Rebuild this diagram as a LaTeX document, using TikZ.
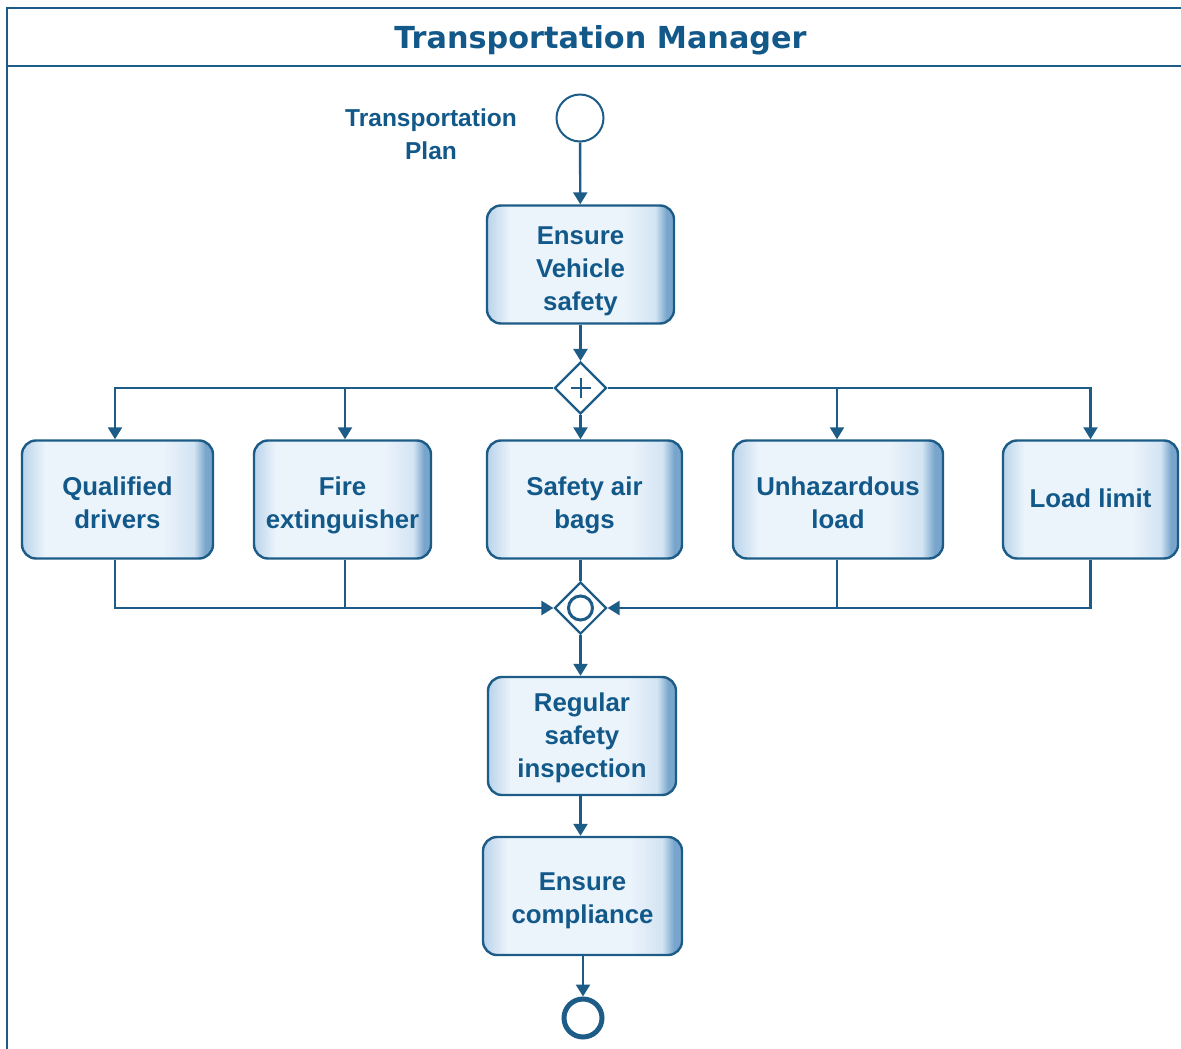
\documentclass[tikz,border=0pt]{standalone}
\usepackage{fontspec}
\usetikzlibrary{arrows.meta,shapes.geometric}
\newfontfamily\lsans{Liberation Sans}
\newfontfamily\dvsans{DejaVu Sans}

\definecolor{bline}{HTML}{1D5C87}
\definecolor{txt}{HTML}{12598A}
\definecolor{bxedge}{HTML}{B9D3EA}
\definecolor{bxlight}{HTML}{EBF3FB}
\definecolor{bxright}{HTML}{78A5CB}
\definecolor{bxmid}{HTML}{D3E4F3}

% taller first line, to sit the text a little lower in its box
\newcommand{\toproom}[1]{\rule{0pt}{#1}}

% horizontal fill for the task boxes: light centre, darker rims
\pgfdeclarehorizontalshading{boxfill}{100bp}{%
  color(0bp)=(bxedge); color(25bp)=(bxedge); color(31bp)=(bxlight);
  color(62bp)=(bxlight); color(70bp)=(bxmid); color(73bp)=(bxright);
  color(75bp)=(bxright); color(100bp)=(bxright)}

\tikzset{
  task/.style={draw=bline, line width=2.4pt, rounded corners=14pt,
    shading=boxfill, minimum height=118pt, align=center, inner sep=0pt,
    text depth=0pt, text=txt,
    font=\lsans\bfseries\fontsize{25.8}{33}\selectfont},
  flow/.style={draw=bline, line width=2.4pt},
  arr/.style={flow, -{Triangle[width=14pt,length=12pt]}},
  gate/.style={draw=bline, line width=2.2pt, fill=white, diamond,
    minimum width=52pt, minimum height=52pt, inner sep=0pt},
}

\begin{document}
\begin{tikzpicture}[x=1pt,y=-1pt]
\useasboundingbox (0,0) rectangle (1181,1049);

% pool frame with title bar
\draw[bline, line width=2.4pt] (1190,8) -- (7,8) -- (7,1060);
\draw[bline, line width=2.4pt] (7,66) -- (1190,66);
\node[text=txt, font=\dvsans\bfseries\fontsize{30.3}{34}\selectfont] (title) at (600.5,40) {Transportation Manager};

% start event and its label
\node[circle, draw=bline, line width=2pt, minimum size=47pt, inner sep=0pt] (start) at (580,118) {};
\node[text=txt, align=center, font=\lsans\bfseries\fontsize{24.5}{33}\selectfont] (plan) at (431,134.5) {Transportation\\Plan};

% tasks
\node[task, minimum width=187pt] (vehicle) at (580.5,264.5) {\toproom{25pt}Ensure\\Vehicle\\safety};
\node[task, minimum width=191pt] (drivers) at (117.5,499.5) {\toproom{25pt}Qualified\\drivers};
\node[task, minimum width=177pt] (fire) at (342.5,499.5) {\toproom{25pt}Fire\\extinguisher};
\node[task, minimum width=195pt] (bags) at (584.5,499.5) {\toproom{25pt}Safety air\\bags};
\node[task, minimum width=210pt] (unhaz) at (838,499.5) {\toproom{25pt}Unhazardous\\load};
\node[task, minimum width=175pt, text depth=2pt] (limit) at (1090.5,499.5) {Load limit};
\node[task, minimum width=188pt, text depth=1pt] (inspect) at (582,736) {Regular\\safety\\inspection};
\node[task, minimum width=199pt] (comply) at (582.5,896) {\toproom{21pt}Ensure\\compliance};

% gateways
\node[gate] (split) at (580.5,388) {};
\draw[bline, line width=2pt] ([xshift=-10pt]split.center) -- ([xshift=10pt]split.center)
  ([yshift=-10pt]split.center) -- ([yshift=10pt]split.center);
\node[gate] (join) at (580.5,608) {};
\node[circle, draw=bline, line width=3pt, minimum size=24pt, inner sep=0pt] (joinring) at (join.center) {};

% end event
\node[circle, draw=bline, line width=5pt, minimum size=38pt, inner sep=0pt] (finish) at (583,1018) {};

% sequence flow
\draw[arr] (start) -- (vehicle);
\draw[arr] (vehicle.south -| split) -- (split);
\draw[arr] (split.west) -| (drivers.north -| 115,0);
\draw[arr] (split.west) -| (fire.north -| 345,0);
\draw[arr] (split.south) -- (bags.north -| split);
\draw[arr] (split.east) -| (unhaz.north -| 837,0);
\draw[arr] (split.east) -| (limit.north);

\draw[arr] (drivers.south -| 115,0) |- (join.west);
\draw[flow] (fire.south -| 345,0) -- (345,608);
\draw[flow] (bags.south -| join) -- (join.north);
\draw[flow] (unhaz.south -| 837,0) -- (837,608);
\draw[arr] (limit.south) |- (join.east);

\draw[arr] (join.south) -- (inspect.north -| join);
\draw[arr] (inspect.south -| join) -- (comply.north -| join);
\draw[arr] (comply.south -| finish) -- (finish);
\end{tikzpicture}
\end{document}
